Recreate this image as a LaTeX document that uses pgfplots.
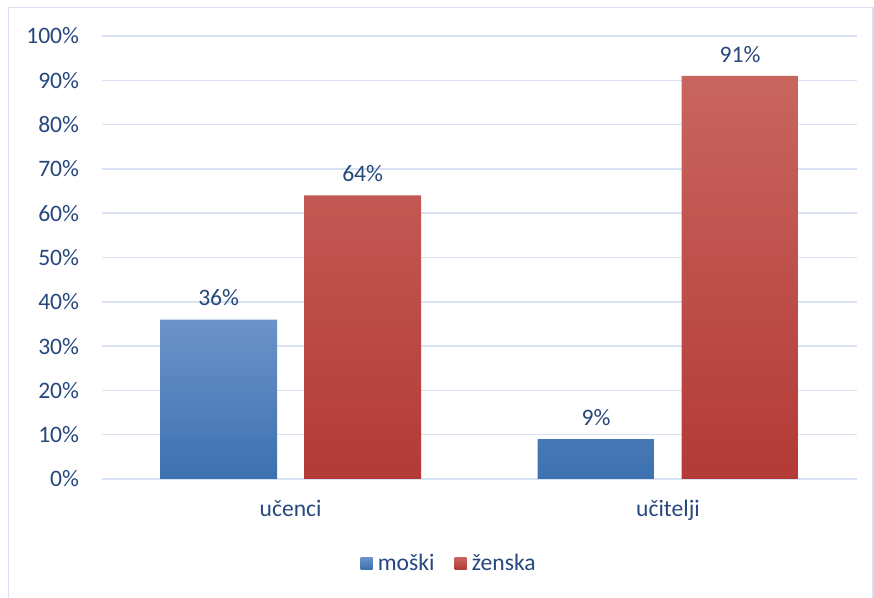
\documentclass[border=0pt]{standalone}
\usepackage{pgfplots}
\pgfplotsset{compat=1.18}
\usepackage{fontspec}
\setmainfont{Carlito}
\definecolor{txt}{HTML}{27487C}
\definecolor{gridc}{HTML}{D9E2F3}
\definecolor{bordc}{HTML}{D6E0F1}
\definecolor{btop}{HTML}{6C93C9}
\definecolor{bbot}{HTML}{3C70B0}
\definecolor{rtop}{HTML}{C9655F}
\definecolor{rbot}{HTML}{B33A37}
\begin{document}
\begin{tikzpicture}
\useasboundingbox (-76.5pt,-89.25pt) rectangle (579pt,359.25pt);
\fill[white] (-76.5pt,-89.25pt) rectangle (579pt,359.25pt);
\draw[bordc, line width=1.2pt] (-70.125pt,353.625pt) rectangle (578.25pt,-95pt);
\begin{axis}[
  at={(0pt,0pt)}, anchor=south west,
  scale only axis, width=566pt, height=332.25pt,
  ybar=20.25pt, bar width=87.75pt,
  xmin=-0.5, xmax=1.5, ymin=0, ymax=100,
  axis line style={draw=none},
  xtick={0,1}, xticklabels={učenci, učitelji},
  ytick={0,10,...,100},
  yticklabel={\pgfmathprintnumber{\tick}\%},
  major tick length=0pt,
  ymajorgrids, grid style={gridc, line width=1.1pt},
  /pgf/number format/assume math mode=true,
  tick label style={font=\fontsize{17.7}{20}\selectfont, text=txt},
  yticklabel style={inner sep=0pt, xshift=-17pt},
  xticklabel style={inner sep=0pt, yshift=-16pt},
  nodes near coords={\pgfmathprintnumber{\pgfplotspointmeta}\%},
  every node near coord/.append style={font=\fontsize{17.7}{20}\selectfont, text=txt, anchor=south, inner sep=0pt, yshift=10pt},
  legend style={at={(0.4604,-0.19)}, anchor=center, draw=none, fill=none,
     font=\fontsize{17.7}{20}\selectfont, text=txt, legend columns=2,
     /tikz/every odd column/.append style={column sep=2pt},
     /tikz/every even column/.append style={column sep=13pt}},
  legend image code/.code={\path[#1, draw=none] (0pt,-4.5pt) rectangle (9pt,4.5pt);},
  legend cell align=left,
]
\addplot[draw=none, top color=btop, bottom color=bbot] coordinates {(0,36) (1,9)};
\addplot[draw=none, top color=rtop, bottom color=rbot] coordinates {(0,64) (1,91)};
\legend{moški, ženska}
\end{axis}
\end{tikzpicture}
\end{document}
